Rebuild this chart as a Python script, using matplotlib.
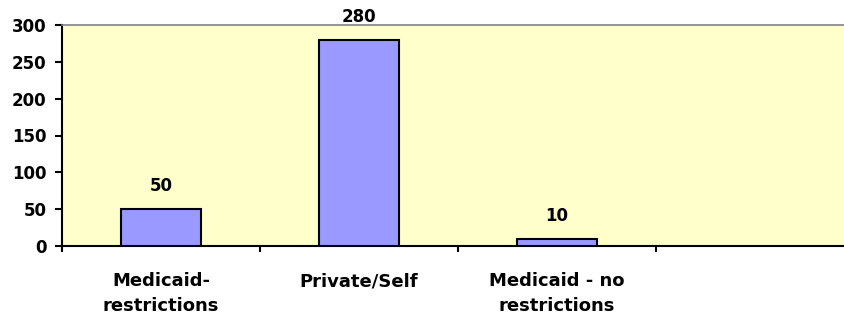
import matplotlib.pyplot as plt
import numpy as np

categories = ['Medicaid-\nrestrictions', 'Private/Self', 'Medicaid - no\nrestrictions', '']
values = [50, 280, 10, 0]
yticks = [0, 50, 100, 150, 200, 250, 300]

plt.rcParams['font.family'] = ['DejaVu Sans']
plt.rcParams['font.weight'] = 'bold'
FS = 12

fig = plt.figure(figsize=(8.45, 3.20), dpi=100)
ax = fig.add_axes([62 / 845, 1 - 246 / 320, 792 / 845, 221 / 320])
ax.set_facecolor('#FFFFCC')

x = np.arange(len(categories))
bars = ax.bar(x[:3], values[:3], width=0.40, color='#9999FF',
              edgecolor='black', linewidth=1.5, zorder=3)
for b, v in zip(bars, values[:3]):
    ax.annotate(str(v), (b.get_x() + b.get_width() / 2, v),
                xytext=(0, 10), textcoords='offset points',
                ha='center', va='bottom', fontsize=FS, fontweight='bold')

ax.set_xlim(-0.5, 3.5)
ax.set_ylim(0, 300)
ax.set_yticks(yticks)
ax.set_yticklabels([str(t) for t in yticks], fontsize=FS, fontweight='bold')

# category ticks sit between the bars, labels under the bar centres
ax.set_xticks(np.arange(len(categories) + 1) - 0.5)
ax.set_xticklabels([])
ax.set_xticks(x, minor=True)
ax.set_xticklabels(categories, minor=True, fontsize=13, fontweight='bold',
                   linespacing=1.45)
ax.tick_params(axis='x', which='minor', length=0, pad=19)
ax.tick_params(axis='x', which='major', length=4, width=1.5, direction='out')
ax.tick_params(axis='y', length=5, width=1.5, direction='out', pad=6)

ax.spines['left'].set_linewidth(1.5)
ax.spines['bottom'].set_linewidth(1.5)
ax.spines['top'].set_color('#808080')
ax.spines['top'].set_linewidth(1.2)
ax.spines['right'].set_visible(False)

fig.savefig('out.png', dpi=100)
